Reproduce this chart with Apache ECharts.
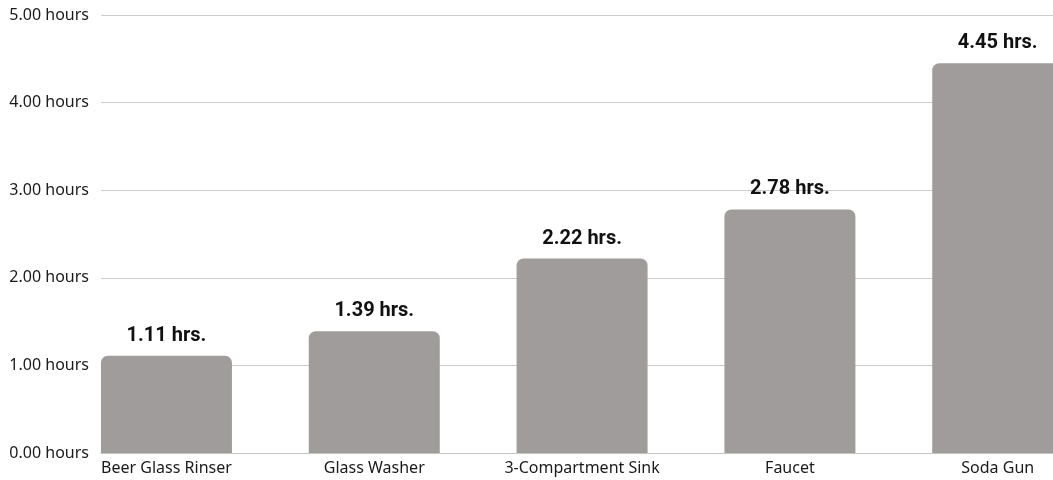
<!DOCTYPE html>
<html>
<head>
<meta charset="utf-8">
<script src="https://cdn.jsdelivr.net/npm/echarts@6/dist/echarts.min.js"></script>
<style>
  html, body { margin: 0; padding: 0; background: #ffffff; }
  #chart { width: 1053px; height: 480px; }
</style>
</head>
<body>
<div id="chart"></div>
<script>
// Equipment and average daily running time (hours)
const categories = ['Beer Glass Rinser', 'Glass Washer', '3-Compartment Sink', 'Faucet', 'Soda Gun'];
const hours = [1.11, 1.39, 2.22, 2.78, 4.45];
const yTicks = [0, 1, 2, 3, 4, 5];

const chart = echarts.init(document.getElementById('chart'), null, { renderer: 'canvas' });

// bars sit on a numeric x scale so the plot can start left of the first slot
const barData = hours.map((v, i) => [i, v]);
const slotIndexes = categories.map((_, i) => i);

chart.setOption({
  animation: false,
  backgroundColor: '#ffffff',
  grid: { left: 101, right: 0, top: 15, bottom: 27, containLabel: false },
  xAxis: {
    type: 'value',
    min: -0.315,
    max: 4.266,
    splitLine: { show: false },
    axisTick: { show: false },
    axisLine: { show: true, lineStyle: { color: '#c4c4c4', width: 1 } },
    axisLabel: {
      customValues: slotIndexes,
      formatter: (v) => categories[Math.round(v)],
      color: '#1a1a1a',
      fontFamily: 'Noto Sans',
      fontSize: 16,
      margin: 7
    }
  },
  yAxis: {
    type: 'value',
    min: yTicks[0],
    max: yTicks[yTicks.length - 1],
    interval: 1,
    axisLine: { show: false },
    axisTick: { show: false },
    splitLine: { lineStyle: { color: '#cccccc', width: 1 } },
    axisLabel: {
      formatter: (v) => v.toFixed(2) + ' hours',
      color: '#1a1a1a',
      fontFamily: 'Noto Sans',
      fontSize: 16,
      margin: 12
    }
  },
  series: [{
    type: 'bar',
    data: barData,
    barWidth: 131,
    clip: true,
    itemStyle: { color: '#a09c9c', borderRadius: [7, 7, 0, 0] },
    label: {
      show: true,
      position: 'top',
      distance: 10,
      formatter: (p) => p.value[1].toFixed(2) + ' hrs.',
      color: '#111111',
      fontFamily: 'Roboto',
      fontWeight: 'bold',
      fontSize: 20
    }
  }]
});
</script>
</body>
</html>
